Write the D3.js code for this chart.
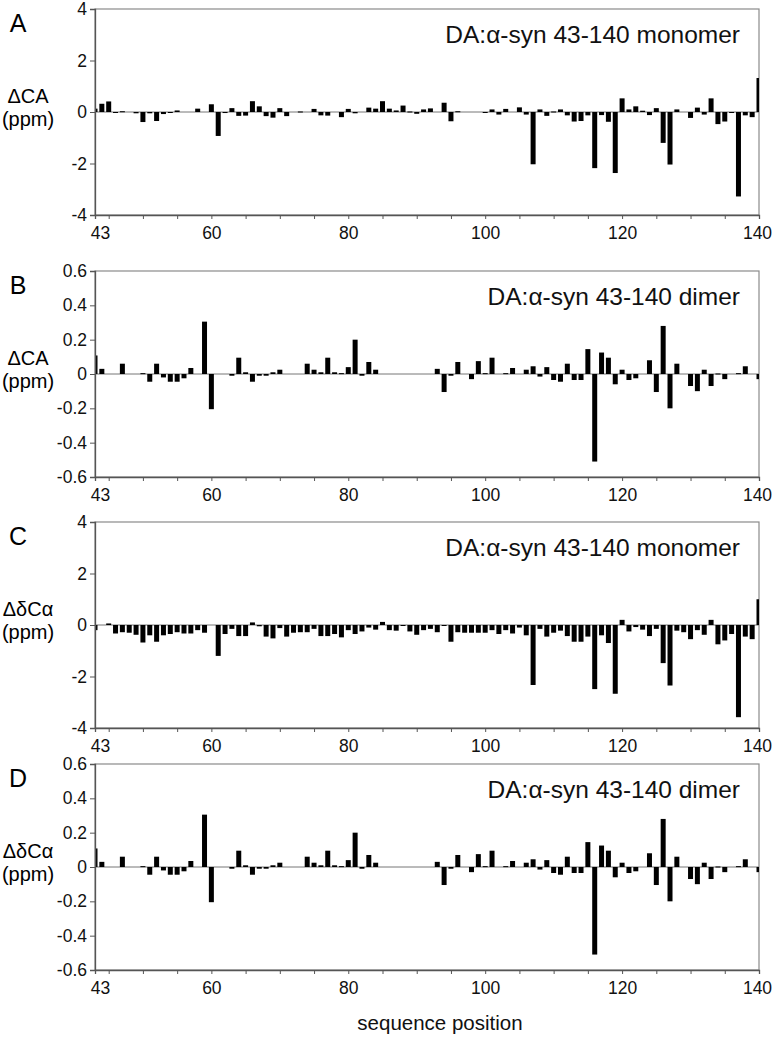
<!DOCTYPE html>
<html>
<head>
<meta charset="utf-8">
<script src="https://cdn.jsdelivr.net/npm/d3@7"></script>
<style>
  body { margin: 0; background: #fff; }
  svg { display: block; font-family: "Liberation Sans", Arial, sans-serif; }
</style>
</head>
<body>
<svg id="chart"></svg>
<script>
// residue numbers 43..140
const residues = d3.range(43, 141);

// panel A: ΔCA, monomer (null = no bar)
const monomerCA = [
  0.13, 0.32, 0.41, -0.03, 0.03, null, -0.05, -0.39, -0.05, -0.35,      // 43-52
  -0.08, -0.02, 0.06, null, null, 0.13, null, 0.3, -0.93, -0.04,        // 53-62
  0.15, -0.15, -0.14, 0.42, 0.22, -0.16, -0.22, 0.15, -0.16, null,      // 63-72
  0.02, null, 0.12, -0.13, -0.14, null, -0.2, 0.12, -0.05, null,        // 73-82
  0.17, 0.13, 0.42, 0.13, 0.06, 0.25, 0.02, -0.07, 0.1, 0.14,           // 83-92
  null, 0.36, -0.36, 0.03, null, null, null, -0.01, 0.1, -0.1,          // 93-102
  0.12, null, 0.18, -0.1, -2.03, 0.1, -0.15, 0.02, 0.1, -0.13,          // 103-112
  -0.37, -0.35, -0.13, -2.18, -0.12, -0.38, -2.37, 0.53, 0.1, 0.22,     // 113-122
  0.05, -0.12, 0.15, -1.2, -2.04, 0.1, null, -0.23, 0.17, -0.1,         // 123-132
  0.53, -0.47, -0.37, -0.01, -3.28, -0.13, -0.2, 1.32                   // 133-140
];

// panels B and D: dimer
const dimerCA = [
  0.108, 0.03, null, null, 0.06, null, null, 0.005, -0.045, 0.06,       // 43-52
  -0.02, -0.045, -0.045, -0.025, 0.035, null, 0.305, -0.205, null, null, // 53-62
  -0.01, 0.095, 0.01, -0.045, -0.01, -0.01, 0.01, 0.025, null, null,    // 63-72
  null, 0.06, 0.025, 0.01, 0.095, 0.01, 0.005, 0.04, 0.2, -0.01,        // 73-82
  0.07, 0.025, null, null, null, null, null, null, null, null,          // 83-92
  0.03, -0.105, -0.01, 0.07, null, -0.03, 0.075, 0.005, 0.095, null,    // 93-102
  0.005, 0.035, null, 0.025, 0.045, -0.015, 0.04, -0.035, -0.045, 0.06, // 103-112
  -0.035, -0.035, 0.145, -0.51, 0.125, 0.095, -0.06, 0.025, -0.035, -0.025, // 113-122
  null, 0.08, -0.105, 0.28, -0.2, 0.06, null, -0.07, -0.1, 0.025,       // 123-132
  -0.07, 0.003, -0.03, null, 0.005, 0.045, null, -0.03                  // 133-140
];

// panel C: ΔδCα, monomer
const monomerDCa = [
  -0.2, null, 0.06, -0.33, -0.28, -0.3, -0.38, -0.68, -0.4, -0.65,      // 43-52
  -0.4, -0.35, -0.28, -0.33, -0.33, -0.2, -0.3, null, -1.2, -0.35,      // 53-62
  -0.15, -0.43, -0.43, 0.1, -0.05, -0.45, -0.52, -0.12, -0.45, -0.3,    // 63-72
  -0.28, -0.28, -0.15, -0.43, -0.43, -0.35, -0.48, -0.2, -0.35, -0.25,  // 73-82
  -0.1, -0.18, 0.12, -0.2, -0.22, -0.03, -0.25, -0.38, -0.2, -0.15,     // 83-92
  -0.28, -0.02, -0.65, -0.28, -0.3, -0.3, -0.3, -0.3, -0.2, -0.35,      // 93-102
  -0.2, -0.33, -0.1, -0.4, -2.33, -0.15, -0.45, -0.3, -0.22, -0.43,     // 103-112
  -0.65, -0.65, -0.45, -2.49, -0.4, -0.7, -2.67, 0.2, -0.25, -0.08,     // 113-122
  -0.18, -0.43, -0.15, -1.48, -2.35, -0.22, -0.28, -0.55, -0.2, -0.38,  // 123-132
  0.2, -0.75, -0.6, -0.35, -3.58, -0.45, -0.55, 1.0                     // 133-140
];

const bigTicks = [4, 2, 0, -2, -4];
const smallTicks = [0.6, 0.4, 0.2, 0, -0.2, -0.4, -0.6];
const xLabels = [43, 60, 80, 100, 120, 140];

const panels = [
  { letter: 'A', ylab: 'ΔCA', note: 'DA:α-syn 43-140 monomer', values: monomerCA, ticks: bigTicks, top: 9 },
  { letter: 'B', ylab: 'ΔCA', note: 'DA:α-syn 43-140 dimer', values: dimerCA, ticks: smallTicks, top: 271 },
  { letter: 'C', ylab: 'ΔδCα', note: 'DA:α-syn 43-140 monomer', values: monomerDCa, ticks: bigTicks, top: 522 },
  { letter: 'D', ylab: 'ΔδCα', note: 'DA:α-syn 43-140 dimer', values: dimerCA, ticks: smallTicks, top: 764 },
];

const W = 772, H = 1039;
const left = 95, right = 759, ph = 206;

const svg = d3.select('#chart').attr('width', W).attr('height', H);

const x = d3.scaleLinear().domain([43, 140]).range([left, right]);
const barW = 5;

panels.forEach((p, i) => {
  const ext = d3.max(p.ticks);
  const y = d3.scaleLinear().domain([-ext, ext]).range([p.top + ph, p.top]);
  const g = svg.append('g').attr('class', 'panel');

  const clipId = 'clip-' + i;
  g.append('clipPath').attr('id', clipId)
    .append('rect')
    .attr('x', left).attr('y', p.top)
    .attr('width', right - left).attr('height', ph);

  // top / right border
  g.append('rect')
    .attr('x', left).attr('y', p.top)
    .attr('width', right - left).attr('height', ph)
    .attr('fill', 'none').attr('stroke', '#8a8a8a').attr('stroke-width', 1.2);

  // zero line
  g.append('line')
    .attr('x1', left).attr('x2', right)
    .attr('y1', y(0)).attr('y2', y(0))
    .attr('stroke', '#777').attr('stroke-width', 1);

  const data = residues
    .map((r, k) => ({ r: r, v: p.values[k] }))
    .filter(d => d.v !== null);

  g.append('g').attr('clip-path', 'url(#' + clipId + ')')
    .selectAll('rect')
    .data(data)
    .enter()
    .append('rect')
    .attr('x', d => x(d.r) - barW / 2)
    .attr('width', barW)
    .attr('y', d => Math.min(y(d.v), y(0)))
    .attr('height', d => Math.max(Math.abs(y(d.v) - y(0)), 1))
    .attr('fill', '#000');

  // y axis
  const yAxis = g.append('g')
    .attr('transform', 'translate(' + left + ',0)')
    .call(d3.axisLeft(y).tickValues(p.ticks).tickSize(5).tickPadding(3)
      .tickFormat(d => String(d)));

  // x axis, minor ticks every 5
  const xAxis = g.append('g')
    .attr('transform', 'translate(0,' + (p.top + ph) + ')')
    .call(d3.axisBottom(x).tickValues([43].concat(d3.range(45, 141, 5)))
      .tickSize(4).tickPadding(8)
      .tickFormat(d => (xLabels.includes(d) ? String(d) : '')));

  xAxis.selectAll('.tick').filter(d => d === 43).select('line').remove();
  xAxis.selectAll('.tick').filter(d => d === 43).select('text').attr('dx', 5);
  // keep the last label inside the page
  xAxis.selectAll('.tick').filter(d => d === 140).select('text').attr('dx', -2);

  [yAxis, xAxis].forEach(a => {
    a.select('.domain').attr('stroke', '#555').attr('stroke-width', 1.3);
    a.selectAll('.tick line').attr('stroke', '#555');
    a.selectAll('.tick text').attr('font-size', 17.5).attr('fill', '#111')
      .attr('font-family', '"Liberation Sans", Arial, sans-serif');
  });

  // panel letter
  g.append('text')
    .attr('x', 18).attr('y', p.top + 23)
    .attr('text-anchor', 'middle')
    .attr('font-size', 25)
    .text(p.letter);

  // y label
  g.append('text')
    .attr('x', 28).attr('y', y(0) - 9)
    .attr('text-anchor', 'middle')
    .attr('font-size', 20)
    .text(p.ylab);
  g.append('text')
    .attr('x', 28).attr('y', y(0) + 14)
    .attr('text-anchor', 'middle')
    .attr('font-size', 20)
    .text('(ppm)');

  // annotation
  g.append('text')
    .attr('x', 740).attr('y', p.top + 34)
    .attr('text-anchor', 'end')
    .attr('font-size', 24.5)
    .attr('fill', '#111')
    .text(p.note);
});

svg.append('text')
  .attr('x', 440).attr('y', 1030)
  .attr('text-anchor', 'middle')
  .attr('font-size', 20.5)
  .attr('fill', '#111')
  .text('sequence position');
</script>
</body>
</html>
